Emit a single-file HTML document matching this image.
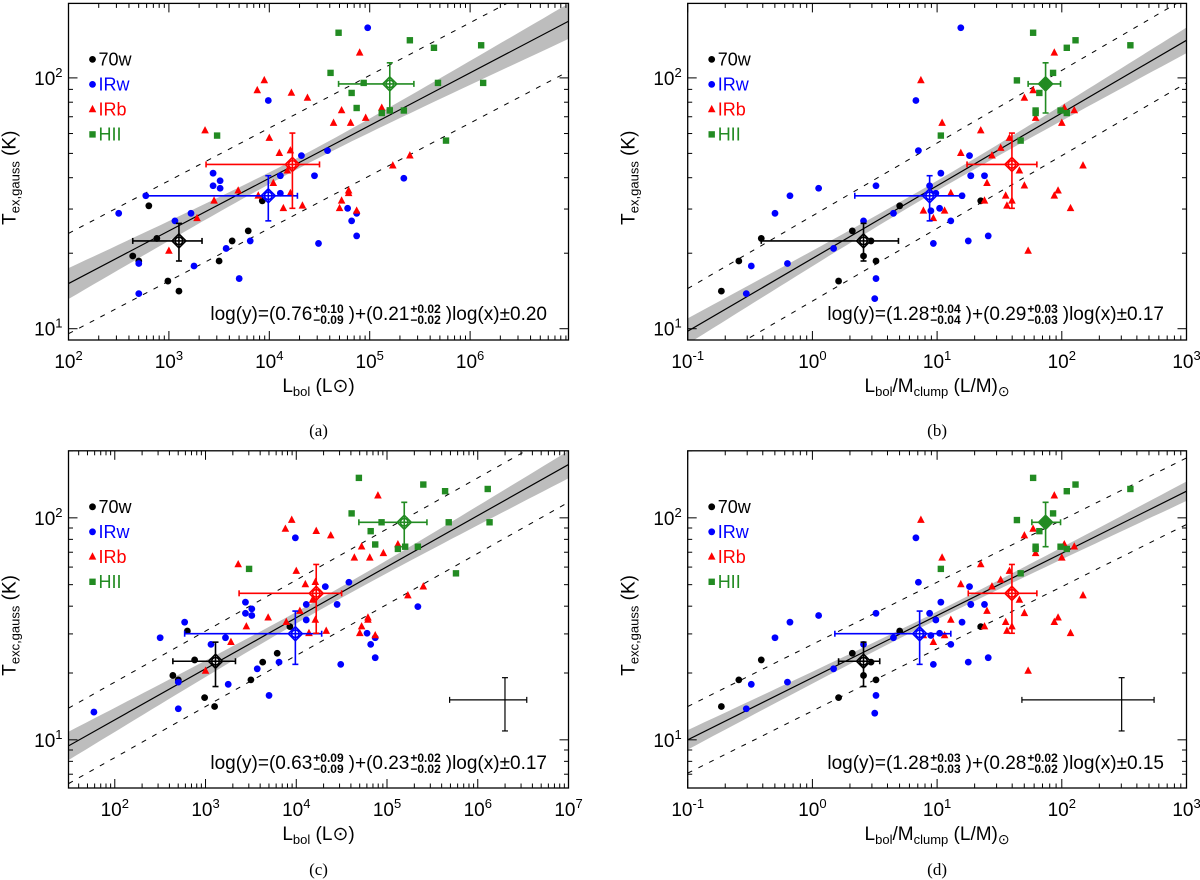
<!DOCTYPE html>
<html><head><meta charset="utf-8">
<style>
html,body{margin:0;padding:0;background:#fff;}
#wrap{position:relative;width:1200px;height:880px;overflow:hidden;font-family:"Liberation Sans",sans-serif;}
svg{position:absolute;left:0;top:0;}
.eq{position:absolute;font-family:"Liberation Sans",sans-serif;font-size:19px;color:#000;white-space:nowrap;display:flex;align-items:center;transform:translate(-100%,-50%);}
.st{display:inline-flex;flex-direction:column;font-size:12px;line-height:11px;margin:0 5px 0 1px;font-weight:bold;}
</style></head>
<body><div id="wrap">
<svg id="fig" width="1200" height="880" xmlns="http://www.w3.org/2000/svg"></svg>
<div class="eq" style="left:547px;top:315px">log(y)=(0.76<span class="st"><span>+0.10</span><span>−0.09</span></span>)+(0.21<span class="st"><span>+0.02</span><span>−0.02</span></span>)log(x)±0.20</div>
<div class="eq" style="left:1164px;top:315px">log(y)=(1.28<span class="st"><span>+0.04</span><span>−0.04</span></span>)+(0.29<span class="st"><span>+0.03</span><span>−0.03</span></span>)log(x)±0.17</div>
<div class="eq" style="left:547px;top:764px">log(y)=(0.63<span class="st"><span>+0.09</span><span>−0.09</span></span>)+(0.23<span class="st"><span>+0.02</span><span>−0.02</span></span>)log(x)±0.17</div>
<div class="eq" style="left:1164px;top:764px">log(y)=(1.28<span class="st"><span>+0.03</span><span>−0.03</span></span>)+(0.28<span class="st"><span>+0.02</span><span>−0.02</span></span>)log(x)±0.15</div>
</div>
<script>
// ---- data (log10 values) ----
const aBlackX=[2.64,2.70,2.80,2.88,2.99,3.10,3.50,3.63,3.79,3.93];
const aBlackY=[1.29,1.27,1.49,1.36,1.19,1.15,1.27,1.35,1.39,1.51];
const aBlueX=[2.50,2.70,2.70,2.77,3.06,3.22,3.25,3.44,3.44,3.51,3.51,3.57,3.70,3.81,3.99,4.11,4.11,4.32,4.45,4.49,4.58,4.78,4.82,4.87,4.87,4.98,5.34];
const aBlueY=[1.46,1.26,1.14,1.53,1.43,1.46,1.25,1.62,1.57,1.59,1.56,1.32,1.20,1.35,1.91,1.61,1.54,1.69,1.61,1.34,1.71,1.48,1.43,1.46,1.37,2.20,1.60];
const aRedX=[3.00,3.28,3.36,3.45,3.69,3.88,3.89,3.95,4.00,4.04,4.10,4.14,4.18,4.21,4.22,4.21,4.33,4.38,4.64,4.72,4.72,4.79,4.79,4.81,4.70,4.87,4.90,4.96,5.12,5.23,5.40];
const aRedY=[1.31,1.44,1.79,1.51,1.55,1.95,1.53,1.99,1.76,1.58,1.70,1.48,1.63,1.71,1.94,1.54,1.49,1.92,1.82,1.87,1.51,1.54,1.55,1.82,1.48,1.47,2.10,1.84,1.88,1.65,1.69];
const aGreenX=[3.48,4.61,4.69,4.82,4.87,4.94,5.12,5.20,5.34,5.40,5.64,5.68,5.76,6.11,6.13];
const aGreenY=[1.77,2.02,2.18,1.94,1.88,1.98,1.86,1.87,1.87,2.15,2.12,1.98,1.75,2.13,1.98];
const cBlueX=[1.77,2.50,2.70,2.70,2.77,3.06,3.22,3.25,3.44,3.44,3.51,3.51,3.57,3.70,3.81,3.99,4.11,4.11,4.32,4.45,4.49,4.58,4.78,4.82,4.87,4.87,5.34];
const cBlueY=[1.125,1.46,1.26,1.14,1.53,1.43,1.46,1.25,1.62,1.57,1.59,1.56,1.32,1.20,1.35,1.91,1.61,1.54,1.69,1.61,1.34,1.71,1.48,1.43,1.46,1.37,1.60];
const bBlackX=[-0.73,-0.59,-0.41,0.21,0.32,0.41,0.47,0.51,0.70,1.35];
const bBlackY=[1.15,1.27,1.36,1.19,1.39,1.29,1.35,1.27,1.49,1.51];
const bBlueX=[-0.53,-0.49,-0.30,-0.20,-0.18,0.05,0.17,0.41,0.51,0.51,0.50,0.65,0.83,0.85,0.94,0.95,0.97,0.99,1.02,1.03,1.11,1.19,1.20,1.25,1.26,1.27,1.27,1.38,1.41];
const bBlueY=[1.14,1.25,1.46,1.26,1.53,1.56,1.32,1.43,1.57,1.20,1.12,1.46,1.91,1.71,1.57,1.47,1.34,1.54,1.48,1.62,1.43,2.20,1.53,1.35,1.69,1.61,1.61,1.61,1.37];
const dBlueX=[-0.53,-0.49,-0.30,-0.20,-0.18,0.05,0.17,0.41,0.51,0.51,0.50,0.65,0.83,0.85,0.94,0.95,0.97,0.99,1.02,1.03,1.11,1.20,1.25,1.26,1.27,1.27,1.38,1.41];
const dBlueY=[1.14,1.25,1.46,1.26,1.53,1.56,1.32,1.43,1.57,1.20,1.12,1.46,1.91,1.71,1.57,1.47,1.34,1.54,1.48,1.62,1.43,1.53,1.35,1.69,1.61,1.61,1.61,1.37];
const bRedX=[0.87,0.89,0.97,1.04,1.06,1.11,1.19,1.35,1.38,1.40,1.44,1.51,1.55,1.56,1.58,1.60,1.66,1.70,1.70,1.73,1.77,1.79,1.94,1.94,1.97,2.00,2.02,2.07,2.10,2.17];
const bRedY=[1.99,1.47,1.44,1.82,1.47,1.54,1.70,1.79,1.51,1.58,1.69,1.72,1.53,1.49,1.76,1.51,1.63,1.57,1.92,1.31,1.95,1.84,2.10,1.53,1.55,1.82,1.88,1.48,1.87,1.65];
const bGreenX=[1.03,1.64,1.67,1.77,1.79,1.79,1.82,1.93,1.99,2.04,2.04,2.11,2.55];
const bGreenY=[1.77,1.99,1.75,2.18,1.87,1.86,1.94,2.02,1.87,2.12,1.86,2.15,2.13];
// group means: [x, xlo, xhi, y, ylo, yhi] (log10)
const aMeans=[[3.10,2.64,3.33,1.35,1.27,1.42],[3.99,2.77,4.28,1.53,1.43,1.61],[4.23,3.37,4.50,1.655,1.48,1.78],[5.20,4.69,5.44,1.976,1.88,2.06]];
const bMeans=[[0.41,-0.41,0.69,1.35,1.27,1.42],[0.94,0.34,1.21,1.53,1.43,1.61],[1.60,1.24,1.80,1.655,1.48,1.78],[1.87,1.73,1.99,1.976,1.86,2.06]];
const cMeans=[[3.11,2.64,3.33,1.354,1.24,1.44],[3.99,2.77,4.28,1.478,1.34,1.58],[4.22,3.37,4.50,1.66,1.48,1.79],[5.19,4.69,5.44,1.98,1.87,2.07]];
const dMeans=[[0.41,0.21,0.54,1.354,1.24,1.44],[0.86,0.18,1.11,1.478,1.34,1.58],[1.60,1.25,1.80,1.66,1.48,1.79],[1.87,1.76,1.99,1.98,1.87,2.07]];
// fit: intercept, slope, scatter
const aFit=[0.76,0.21,0.20], bFit=[1.28,0.29,0.17], cFit=[0.63,0.23,0.17], dFit=[1.28,0.28,0.15];
const cCross=[6.30,5.69,6.54,1.18,1.04,1.28];
const dCross=[2.48,1.68,2.74,1.18,1.04,1.28];

const NS='http://www.w3.org/2000/svg';
const svg=document.getElementById('fig');
function mk(tag,attrs,parent){const e=document.createElementNS(NS,tag);for(const k in attrs)e.setAttribute(k,attrs[k]);(parent||svg).appendChild(e);return e;}
const COL={k:'#000',b:'#0000ff',r:'#ff0000',g:'#228b22'};

const panels=[
 {id:'a',box:[68.5,568.5,3.4,340],xr:[2,6.98],yr:[0.955,2.297],fit:aFit,band:[0.022,0.025,4.3],
  groups:[[aBlackX,aBlackY,'k','c'],[aBlueX,aBlueY,'b','c'],[aRedX,aRedY,'r','t'],[aGreenX,aGreenY,'g','s']],means:aMeans,fill:false,cross:null,ylab:'ex,gauss',xlab:1,cap:'(a)',capY:436},
 {id:'b',box:[687.7,1186.5,3.4,340],xr:[-1,3],yr:[0.955,2.297],fit:bFit,band:[0.02,0.0235,1],
  groups:[[bBlackX,bBlackY,'k','c'],[bBlueX,bBlueY,'b','c'],[bRedX,bRedY,'r','t'],[bGreenX,bGreenY,'g','s']],means:bMeans,fill:true,cross:null,ylab:'ex,gauss',xlab:2,cap:'(b)',capY:436},
 {id:'c',box:[68.5,568.5,450.8,788],xr:[1.49,7.0],yr:[0.783,2.302],fit:cFit,band:[0.025,0.021,4.3],
  groups:[[aBlackX,aBlackY,'k','c'],[cBlueX,cBlueY,'b','c'],[aRedX,aRedY,'r','t'],[aGreenX,aGreenY,'g','s']],means:cMeans,fill:false,cross:cCross,ylab:'exc,gauss',xlab:1,cap:'(c)',capY:875},
 {id:'d',box:[687.7,1186.5,450.8,788],xr:[-1,3],yr:[0.783,2.302],fit:dFit,band:[0.018,0.02,1],
  groups:[[bBlackX,bBlackY,'k','c'],[dBlueX,dBlueY,'b','c'],[bRedX,bRedY,'r','t'],[bGreenX,bGreenY,'g','s']],means:dMeans,fill:true,cross:dCross,ylab:'exc,gauss',xlab:2,cap:'(d)',capY:875}
];

panels.forEach(p=>{
 const [X0,X1,Y0,Y1]=p.box;
 const sx=lx=>X0+(lx-p.xr[0])/(p.xr[1]-p.xr[0])*(X1-X0);
 const sy=ly=>Y1-(ly-p.yr[0])/(p.yr[1]-p.yr[0])*(Y1-Y0);
 const g=mk('g',{});
 
 
 const cp=mk('clipPath',{id:'clip'+p.id},g);
 mk('rect',{x:X0,y:Y0,width:X1-X0,height:Y1-Y0},cp);
 const pg=mk('g',{'clip-path':'url(#clip'+p.id+')'},g);
 const N=60;let up=[],lo=[];
 for(let i=0;i<=N;i++){const lx=p.xr[0]+(p.xr[1]-p.xr[0])*i/N;const m=p.fit[0]+p.fit[1]*lx;
  const w=Math.sqrt(p.band[0]*p.band[0]+Math.pow(p.band[1]*(lx-p.band[2]),2));
  up.push(sx(lx).toFixed(1)+','+sy(m+w).toFixed(1));lo.unshift(sx(lx).toFixed(1)+','+sy(m-w).toFixed(1));}
 const band=mk('polygon',{points:up.concat(lo).join(' '),fill:'#bdbdbd',stroke:'none'},pg);
 
 
 const L=p.xr[0],R=p.xr[1];
 const fl=mk('line',{x1:sx(L),y1:sy(p.fit[0]+p.fit[1]*L),x2:sx(R),y2:sy(p.fit[0]+p.fit[1]*R),stroke:'#000','stroke-width':1.2},pg);
 
 
 [1,-1].forEach(s=>{
  const dl=mk('line',{x1:sx(L),y1:sy(p.fit[0]+s*p.fit[2]+p.fit[1]*L),x2:sx(R),y2:sy(p.fit[0]+s*p.fit[2]+p.fit[1]*R),stroke:'#000','stroke-width':1,'stroke-dasharray':'5,7'},pg);
  
  
 });
 p.groups.forEach(gr=>{
  const [xs,ys,c,sh]=gr;
  xs.forEach((lx,i)=>{
   const x=sx(lx),y=sy(ys[i]);let e;
   if(sh==='c')e=mk('circle',{cx:x,cy:y,r:3.4,fill:COL[c]},pg);
   else if(sh==='t')e=mk('polygon',{points:`${x},${y-4.5} ${x-3.8},${y+2.8} ${x+3.8},${y+2.8}`,fill:COL[c]},pg);
   else e=mk('rect',{x:x-3.2,y:y-3.2,width:6.4,height:6.4,fill:COL[c]},pg);
   
   
  });
 });
 const mc=['k','b','r','g'];
 p.means.forEach((m,i)=>{
  const col=COL[mc[i]];const mg=mk('g',{stroke:col,'stroke-width':1.6,fill:'none'},pg);
  
  
  const cx=sx(m[0]),cy=sy(m[3]);
  mk('line',{x1:sx(m[1]),y1:cy,x2:sx(m[2]),y2:cy},mg);
  mk('line',{x1:cx,y1:sy(m[4]),x2:cx,y2:sy(m[5])},mg);
  [m[1],m[2]].forEach(v=>mk('line',{x1:sx(v),y1:cy-3,x2:sx(v),y2:cy+3},mg));
  [m[4],m[5]].forEach(v=>mk('line',{x1:cx-3,y1:sy(v),x2:cx+3,y2:sy(v)},mg));
  const filled=p.fill&&i===3;
  mk('polygon',{points:`${cx},${cy-7} ${cx+7},${cy} ${cx},${cy+7} ${cx-7},${cy}`,fill:filled?col:'#fff'},mg);
  mk('circle',{cx:cx,cy:cy,r:3.8},mg);
  mk('line',{x1:cx-7,y1:cy,x2:cx+7,y2:cy},mg);mk('line',{x1:cx,y1:cy-7,x2:cx,y2:cy+7},mg);
 });
 if(p.cross){const m=p.cross;const cg=mk('g',{stroke:'#000','stroke-width':1.2},g);
  
  
  const cx=sx(m[0]),cy=sy(m[3]);
  mk('line',{x1:sx(m[1]),y1:cy,x2:sx(m[2]),y2:cy},cg);mk('line',{x1:cx,y1:sy(m[4]),x2:cx,y2:sy(m[5])},cg);
  [m[1],m[2]].forEach(v=>mk('line',{x1:sx(v),y1:cy-3,x2:sx(v),y2:cy+3},cg));
  [m[4],m[5]].forEach(v=>mk('line',{x1:cx-3,y1:sy(v),x2:cx+3,y2:sy(v)},cg));
 }
 const fr=mk('rect',{x:X0,y:Y0,width:X1-X0,height:Y1-Y0,fill:'none',stroke:'#000','stroke-width':1.3},g);
 
 
 const tg=mk('g',{stroke:'#000','stroke-width':1},g);
 for(let d=Math.floor(p.xr[0]);d<=Math.ceil(p.xr[1]);d++){for(let k=1;k<10;k++){const lx=d+Math.log10(k);if(lx<p.xr[0]-1e-6||lx>p.xr[1]+1e-6)continue;const x=sx(lx),len=k===1?9:4.5;
  mk('line',{x1:x,y1:Y1,x2:x,y2:Y1-len},tg);mk('line',{x1:x,y1:Y0,x2:x,y2:Y0+len},tg);
  if(k===1){const t=mk('text',{x:x,y:Y1+28,'text-anchor':'middle','font-size':19,'font-family':'Liberation Sans, sans-serif'},g);
   
   
   t.innerHTML='10<tspan dy="-8" font-size="13">'+d+'</tspan>';}}}
 for(let d=Math.floor(p.yr[0]);d<=Math.ceil(p.yr[1]);d++){for(let k=1;k<10;k++){const ly=d+Math.log10(k);if(ly<p.yr[0]||ly>p.yr[1])continue;const y=sy(ly),len=k===1?9:4.5;
  mk('line',{x1:X0,y1:y,x2:X0+len,y2:y},tg);mk('line',{x1:X1,y1:y,x2:X1-len,y2:y},tg);
  if(k===1){const t=mk('text',{x:X0-6,y:y+7,'text-anchor':'end','font-size':19,'font-family':'Liberation Sans, sans-serif'},g);
   
   
   t.innerHTML='10<tspan dy="-8" font-size="13">'+d+'</tspan>';}}}
 const yt=mk('text',{x:0,y:0,'font-size':19,'font-family':'Liberation Sans, sans-serif','text-anchor':'middle',transform:`translate(${X0-53},${(Y0+Y1)/2+6}) rotate(-90)`},g);
 
 
 yt.innerHTML='T<tspan font-size="13" dy="4">'+p.ylab+'</tspan><tspan dy="-4">  (K)</tspan>';
 const xt=mk('text',{x:(X0+X1)/2,y:Y1+52,'font-size':19,'font-family':'Liberation Sans, sans-serif','text-anchor':'middle'},g);
 
 
 xt.innerHTML=p.xlab===1?'L<tspan font-size="13" dy="4">bol</tspan><tspan dy="-4"> (L</tspan><tspan>⊙</tspan><tspan>)</tspan>'
  :'L<tspan font-size="13" dy="4">bol</tspan><tspan dy="-4">/M</tspan><tspan font-size="13" dy="4">clump</tspan><tspan dy="-4"> (L/M)</tspan><tspan font-size="14" dy="4">⊙</tspan>';
 const cap=mk('text',{x:(X0+X1)/2,y:p.capY,'font-size':17,'font-family':'Liberation Serif, serif','text-anchor':'middle'},g);
 
 
 cap.textContent=p.cap;
 const ly0=Y0+56;
 const labs=[['70w','k','c'],['IRw','b','c'],['IRb','r','t'],['HII','g','s']];
 labs.forEach((l,i)=>{const y=ly0+i*25;const lg=mk('g',{},g);
  
  
  const x=X0+24;
  if(l[2]==='c')mk('circle',{cx:x,cy:y,r:3.4,fill:COL[l[1]]},lg);
  else if(l[2]==='t')mk('polygon',{points:`${x},${y-4.5} ${x-3.8},${y+2.8} ${x+3.8},${y+2.8}`,fill:COL[l[1]]},lg);
  else mk('rect',{x:x-3.2,y:y-3.2,width:6.4,height:6.4,fill:COL[l[1]]},lg);
  const t=mk('text',{x:x+6,y:y+6,'font-size':18,fill:COL[l[1]],'font-family':'Liberation Sans, sans-serif'},lg);t.textContent=l[0];});
});
</script>
</body></html>
